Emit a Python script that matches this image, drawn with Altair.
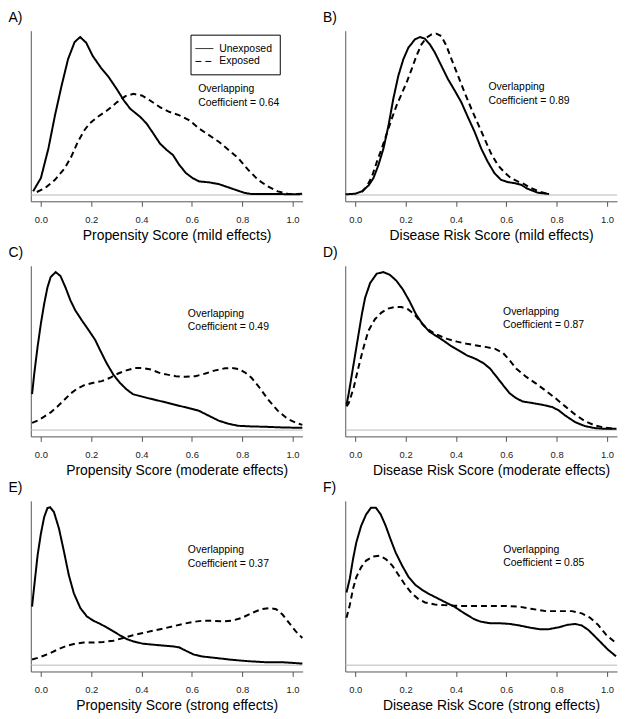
import altair as alt
import pandas as pd

# ---------------- data (relative density, unexposed peak = 1) ----------------
A_unexp_x = [-0.031, 0.0, 0.03, 0.056, 0.082, 0.108, 0.134, 0.156, 0.18, 0.206, 0.238, 0.27, 0.303, 0.33, 0.355,
             0.395, 0.42, 0.447, 0.473, 0.5, 0.525, 0.55, 0.577, 0.603, 0.629, 0.668, 0.707, 0.76, 0.81, 0.837,
             0.89, 0.955, 0.99, 1.03]
A_unexp_y = [0.023, 0.107, 0.295, 0.504, 0.69, 0.86, 0.968, 1.0, 0.964, 0.88, 0.807, 0.745, 0.667, 0.598, 0.546,
             0.494, 0.452, 0.389, 0.326, 0.285, 0.253, 0.19, 0.138, 0.107, 0.086, 0.08, 0.069, 0.04, 0.013, 0.006,
             0.006, 0.006, 0.004, 0.004]
A_exp_x = [-0.016, 0.017, 0.056, 0.095, 0.121, 0.147, 0.173, 0.193, 0.225, 0.264, 0.303, 0.336, 0.368, 0.401,
           0.434, 0.473, 0.512, 0.551, 0.59, 0.629, 0.668, 0.707, 0.746, 0.785, 0.824, 0.863, 0.902, 0.941, 0.98,
           1.02, 1.04]
A_exp_y = [0.019, 0.044, 0.096, 0.17, 0.243, 0.337, 0.41, 0.452, 0.494, 0.536, 0.588, 0.626, 0.64, 0.63, 0.598,
           0.556, 0.525, 0.504, 0.473, 0.42, 0.379, 0.337, 0.285, 0.232, 0.159, 0.096, 0.054, 0.023, 0.008, 0.006,
           0.008]

B_unexp_x = [-0.039, 0.0, 0.026, 0.053, 0.072, 0.092, 0.112, 0.132, 0.151, 0.171, 0.191, 0.211, 0.237, 0.257,
             0.276, 0.296, 0.316, 0.342, 0.368, 0.395, 0.421, 0.447, 0.474, 0.5, 0.526, 0.553, 0.579, 0.605, 0.632,
             0.658, 0.684, 0.724, 0.77]
B_unexp_y = [0.004, 0.008, 0.023, 0.061, 0.107, 0.19, 0.295, 0.441, 0.609, 0.755, 0.86, 0.933, 0.985, 1.0, 0.99,
             0.954, 0.902, 0.818, 0.734, 0.661, 0.588, 0.494, 0.4, 0.295, 0.211, 0.138, 0.096, 0.082, 0.075, 0.065,
             0.04, 0.015, 0.006]
B_exp_x = [0.026, 0.046, 0.066, 0.086, 0.105, 0.125, 0.145, 0.164, 0.184, 0.204, 0.224, 0.243, 0.263, 0.283,
           0.303, 0.322, 0.342, 0.362, 0.382, 0.408, 0.434, 0.461, 0.487, 0.513, 0.539, 0.566, 0.592, 0.618, 0.645,
           0.671, 0.697, 0.737, 0.763]
B_exp_y = [0.019, 0.054, 0.117, 0.211, 0.295, 0.389, 0.483, 0.567, 0.64, 0.713, 0.797, 0.881, 0.954, 0.996,
           1.017, 1.021, 1.006, 0.944, 0.86, 0.755, 0.65, 0.546, 0.452, 0.358, 0.264, 0.19, 0.144, 0.107, 0.086,
           0.069, 0.044, 0.019, 0.008]

C_unexp_x = [-0.035, -0.026, -0.013, 0.0, 0.013, 0.026, 0.039, 0.059, 0.078, 0.098, 0.118, 0.137, 0.163, 0.19,
             0.216, 0.235, 0.261, 0.288, 0.314, 0.34, 0.366, 0.392, 0.431, 0.471, 0.51, 0.549, 0.588, 0.627, 0.667,
             0.706, 0.745, 0.784, 0.837, 0.889, 0.954, 1.007, 1.039]
C_unexp_y = [0.227, 0.362, 0.528, 0.674, 0.798, 0.902, 0.969, 1.0, 0.975, 0.902, 0.819, 0.757, 0.694, 0.632, 0.57,
             0.507, 0.424, 0.351, 0.299, 0.258, 0.227, 0.216, 0.2, 0.185, 0.17, 0.154, 0.139, 0.123, 0.091, 0.06,
             0.04, 0.027, 0.023, 0.021, 0.017, 0.015, 0.015]
C_exp_x = [-0.035, -0.013, 0.013, 0.039, 0.065, 0.092, 0.118, 0.144, 0.176, 0.209, 0.242, 0.275, 0.307, 0.34,
           0.373, 0.405, 0.438, 0.471, 0.503, 0.536, 0.575, 0.614, 0.654, 0.693, 0.732, 0.758, 0.784, 0.81, 0.837,
           0.869, 0.902, 0.941, 0.98, 1.013, 1.039]
C_exp_y = [0.046, 0.06, 0.085, 0.112, 0.148, 0.189, 0.231, 0.262, 0.287, 0.299, 0.31, 0.331, 0.358, 0.378, 0.393,
           0.393, 0.383, 0.362, 0.351, 0.341, 0.337, 0.341, 0.358, 0.378, 0.391, 0.393, 0.387, 0.366, 0.331, 0.268,
           0.195, 0.123, 0.071, 0.046, 0.033]

D_unexp_x = [-0.035, -0.026, -0.013, 0.0, 0.013, 0.026, 0.039, 0.059, 0.085, 0.111, 0.137, 0.163, 0.189, 0.215,
             0.241, 0.267, 0.293, 0.319, 0.346, 0.378, 0.411, 0.443, 0.476, 0.508, 0.535, 0.561, 0.587, 0.613,
             0.639, 0.665, 0.704, 0.743, 0.782, 0.808, 0.834, 0.874, 0.913, 0.952, 0.991, 1.037]
D_unexp_y = [0.16, 0.233, 0.358, 0.483, 0.608, 0.733, 0.838, 0.931, 0.99, 1.0, 0.983, 0.946, 0.89, 0.817, 0.733,
             0.671, 0.625, 0.598, 0.571, 0.535, 0.504, 0.473, 0.452, 0.425, 0.39, 0.338, 0.285, 0.233, 0.202, 0.181,
             0.171, 0.16, 0.146, 0.125, 0.092, 0.05, 0.025, 0.0125, 0.008, 0.008]
D_exp_x = [-0.035, -0.026, -0.007, 0.013, 0.033, 0.052, 0.078, 0.104, 0.13, 0.156, 0.183, 0.209, 0.235, 0.261,
           0.287, 0.313, 0.339, 0.365, 0.404, 0.443, 0.482, 0.522, 0.554, 0.587, 0.613, 0.639, 0.678, 0.717, 0.756,
           0.795, 0.834, 0.874, 0.913, 0.952, 0.991, 1.037]
D_exp_y = [0.15, 0.171, 0.265, 0.4, 0.525, 0.629, 0.702, 0.744, 0.769, 0.779, 0.779, 0.765, 0.733, 0.681, 0.64,
           0.613, 0.594, 0.577, 0.56, 0.546, 0.535, 0.525, 0.515, 0.488, 0.442, 0.39, 0.338, 0.296, 0.25, 0.202,
           0.15, 0.098, 0.056, 0.029, 0.015, 0.008]

E_unexp_x = [-0.035, -0.026, -0.013, 0.0, 0.013, 0.026, 0.037, 0.052, 0.072, 0.092, 0.111, 0.131, 0.157, 0.183,
             0.209, 0.235, 0.261, 0.288, 0.314, 0.34, 0.366, 0.405, 0.444, 0.484, 0.523, 0.549, 0.575, 0.608,
             0.641, 0.693, 0.758, 0.824, 0.889, 0.954, 0.993, 1.039]
E_unexp_y = [0.371, 0.507, 0.696, 0.832, 0.937, 0.994, 1.0, 0.969, 0.864, 0.717, 0.57, 0.455, 0.361, 0.308, 0.281,
             0.262, 0.239, 0.214, 0.189, 0.166, 0.151, 0.136, 0.13, 0.124, 0.119, 0.113, 0.092, 0.067, 0.055, 0.046,
             0.034, 0.025, 0.019, 0.019, 0.015, 0.01]
E_exp_x = [-0.035, -0.013, 0.013, 0.039, 0.072, 0.105, 0.137, 0.17, 0.209, 0.248, 0.288, 0.327, 0.366, 0.405,
           0.444, 0.484, 0.523, 0.562, 0.601, 0.641, 0.68, 0.719, 0.758, 0.797, 0.837, 0.876, 0.908, 0.935, 0.961,
           0.987, 1.013, 1.039]
E_exp_y = [0.036, 0.046, 0.061, 0.078, 0.103, 0.124, 0.136, 0.143, 0.143, 0.147, 0.155, 0.172, 0.189, 0.203,
           0.218, 0.231, 0.245, 0.26, 0.273, 0.281, 0.281, 0.277, 0.281, 0.298, 0.329, 0.354, 0.361, 0.354, 0.319,
           0.266, 0.214, 0.172]

F_unexp_x = [-0.035, -0.022, -0.009, 0.004, 0.023, 0.043, 0.062, 0.082, 0.101, 0.121, 0.14, 0.16, 0.186, 0.212,
             0.238, 0.264, 0.29, 0.316, 0.342, 0.368, 0.394, 0.42, 0.445, 0.471, 0.497, 0.536, 0.575, 0.614, 0.653,
             0.692, 0.731, 0.77, 0.809, 0.842, 0.874, 0.9, 0.926, 0.952, 0.978, 1.004, 1.036]
F_unexp_y = [0.46, 0.547, 0.672, 0.777, 0.881, 0.954, 0.996, 0.996, 0.954, 0.881, 0.797, 0.714, 0.63, 0.557, 0.509,
             0.478, 0.453, 0.432, 0.411, 0.39, 0.37, 0.342, 0.317, 0.292, 0.276, 0.265, 0.265, 0.261, 0.251, 0.238,
             0.228, 0.228, 0.24, 0.255, 0.261, 0.251, 0.223, 0.182, 0.14, 0.098, 0.056]
F_exp_x = [-0.035, -0.022, -0.009, 0.004, 0.023, 0.043, 0.069, 0.095, 0.121, 0.147, 0.173, 0.199, 0.225, 0.251,
           0.277, 0.316, 0.355, 0.394, 0.445, 0.497, 0.549, 0.601, 0.653, 0.705, 0.757, 0.809, 0.861, 0.9, 0.932,
           0.965, 0.997, 1.036]
F_exp_y = [0.3, 0.38, 0.484, 0.557, 0.62, 0.662, 0.687, 0.693, 0.672, 0.63, 0.568, 0.505, 0.453, 0.418, 0.397,
           0.384, 0.38, 0.376, 0.374, 0.374, 0.374, 0.374, 0.37, 0.355, 0.342, 0.342, 0.342, 0.328, 0.301, 0.255,
           0.192, 0.14]

panel_letters = ["A)", "B)", "C)", "D)", "E)", "F)"]
x_titles = ["Propensity Score (mild effects)", "Disease Risk Score (mild effects)",
            "Propensity Score (moderate effects)", "Disease Risk Score (moderate effects)",
            "Propensity Score (strong effects)", "Disease Risk Score (strong effects)"]
overlap_coef = ["0.64", "0.89", "0.49", "0.87", "0.37", "0.85"]
ann_x = [0.625, 0.529, 0.584, 0.587, 0.584, 0.588]
ann_y = [0.669, 0.682, 0.736, 0.748, 0.727, 0.731]
x_ticks = [0.0, 0.2, 0.4, 0.6, 0.8, 1.0]
groups = ["Unexposed", "Exposed"]

curves = [
    (A_unexp_x, A_unexp_y, A_exp_x, A_exp_y),
    (B_unexp_x, B_unexp_y, B_exp_x, B_exp_y),
    (C_unexp_x, C_unexp_y, C_exp_x, C_exp_y),
    (D_unexp_x, D_unexp_y, D_exp_x, D_exp_y),
    (E_unexp_x, E_unexp_y, E_exp_x, E_exp_y),
    (F_unexp_x, F_unexp_y, F_exp_x, F_exp_y),
]

W, H = 274, 172
FONT = "Liberation Sans"


def make_panel(i):
    ux, uy, ex, ey = curves[i]
    df = pd.DataFrame(
        [{"x": a, "y": b, "g": groups[0]} for a, b in zip(ux, uy)]
        + [{"x": a, "y": b, "g": groups[1]} for a, b in zip(ex, ey)]
    )
    xs = alt.Scale(domain=[-0.04, 1.04], nice=False, zero=False)
    ys = alt.Scale(domain=[-0.04, 1.04], nice=False, zero=False)
    if i == 0:
        legend = alt.Legend(
            title=None, orient="none", legendX=161, legendY=4,
            strokeColor="black", fillColor="white", padding=7, cornerRadius=0,
            symbolType="M-1.385,0H1.385", symbolSize=169, symbolStrokeWidth=1,
            symbolStrokeColor="black", labelFontSize=10.5, labelOffset=8,
            labelColor="black", labelFont=FONT, rowPadding=0,
        )
    else:
        legend = None

    xaxis = alt.Axis(
        values=x_ticks, format=".1f", title=x_titles[i], titleX=W / 2 + 10,
        titleFontSize=14, titleFontWeight="normal", titleColor="black", titleFont=FONT,
        titlePadding=5, labelFontSize=9.5, labelColor="#222", labelFont=FONT,
        labelPadding=8, labelFlush=False, tickSize=5, tickColor="#555",
        domainColor="#555", grid=False,
    )
    yaxis = alt.Axis(
        labels=False, ticks=False, grid=False, domainColor="#555",
        title=panel_letters[i], titleAngle=0, titleAlign="left", titleBaseline="top",
        titleX=-23, titleY=-20, titleFontSize=14, titleFontWeight="normal",
        titleColor="black", titleFont=FONT,
    )

    lines = alt.Chart(df).mark_line(strokeWidth=2, color="black").encode(
        x=alt.X("x:Q", scale=xs, axis=xaxis),
        y=alt.Y("y:Q", scale=ys, axis=yaxis),
        strokeDash=alt.StrokeDash(
            "g:N", scale=alt.Scale(domain=groups, range=[[1, 0], [6, 4]]), legend=legend
        ),
    )
    zero = alt.Chart(pd.DataFrame({"y": [0.0]})).mark_rule(color="#b8b8b8", strokeWidth=1).encode(
        y=alt.Y("y:Q", scale=ys)
    )
    ann = pd.DataFrame({
        "x": [ann_x[i]], "y": [ann_y[i]],
        "t": ["Overlapping\n\u00a0Coefficient = " + overlap_coef[i]],
    })
    text = alt.Chart(ann).mark_text(
        align="left", baseline="middle", fontSize=10.5, lineBreak="\n",
        lineHeight=13.5, font=FONT, color="black",
    ).encode(x=alt.X("x:Q", scale=xs), y=alt.Y("y:Q", scale=ys), text="t:N")

    return alt.layer(zero, lines, text).properties(width=W, height=H)


chart = alt.concat(
    *[make_panel(i) for i in range(6)],
    columns=2, spacing={"row": 65, "column": 43}, bounds="flush",
).resolve_scale(strokeDash="independent").resolve_legend(strokeDash="independent").properties(
    padding=0
).configure(font=FONT).configure_view(stroke=None)

chart.save("out.html", embed_options={"renderer": "svg", "actions": False})
